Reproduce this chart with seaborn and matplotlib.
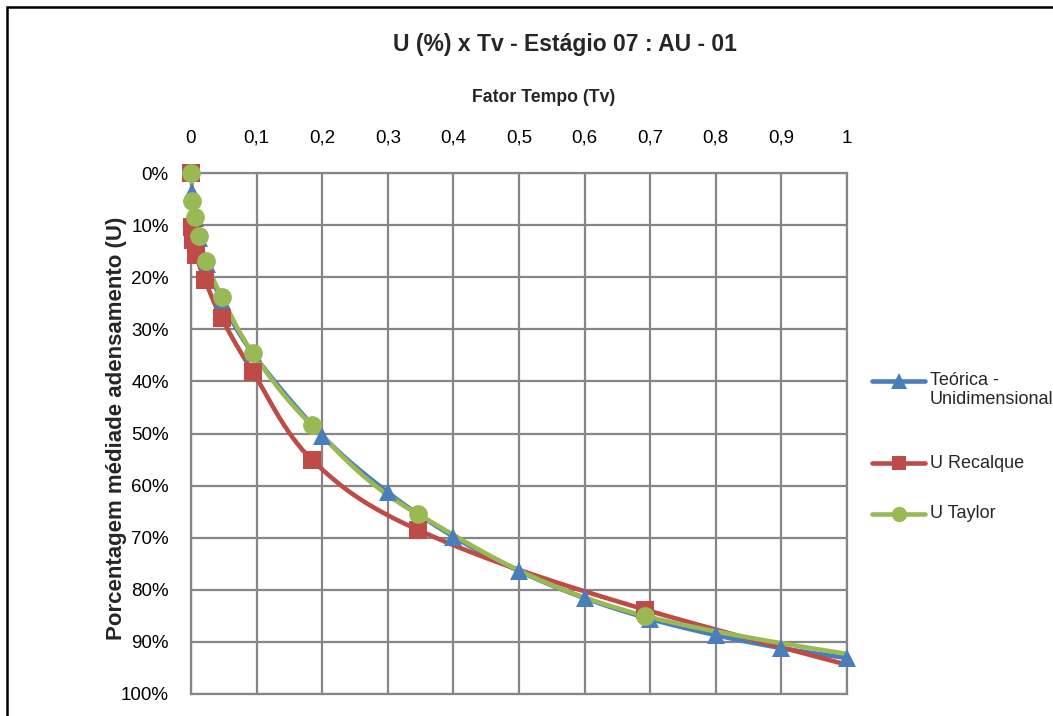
import numpy as np
import pandas as pd
import matplotlib
matplotlib.use("Agg")
import matplotlib.pyplot as plt
from matplotlib.lines import Line2D
from matplotlib.patches import Rectangle
import seaborn as sns

# ---------------- data ----------------
theory_tv = [0, 0.001, 0.006, 0.012, 0.024, 0.047, 0.094, 0.2, 0.3, 0.4, 0.5, 0.6, 0.7, 0.8, 0.9, 1.0]
theory_u = [0, 3.6, 8.7, 12.4, 17.5, 24.5, 34.6, 50.4, 61.3, 69.8, 76.4, 81.6, 85.6, 88.7, 91.2, 93.1]

recalque_tv = [0, 0.001, 0.003, 0.008, 0.021, 0.047, 0.094, 0.184, 0.346, 0.692, 1.384]
recalque_u = [0, 10.3, 12.8, 15.8, 20.5, 27.9, 38.1, 55.0, 68.5, 83.8, 107.0]

taylor_tv = [0, 0.002, 0.006, 0.012, 0.023, 0.047, 0.094, 0.184, 0.346, 0.692, 1.384]
taylor_u = [0, 5.3, 8.4, 12.1, 16.9, 23.8, 34.5, 48.4, 65.5, 85.0, 99.5]

x_ticks = [0, 0.1, 0.2, 0.3, 0.4, 0.5, 0.6, 0.7, 0.8, 0.9, 1.0]
x_tick_labels = ["0", "0,1", "0,2", "0,3", "0,4", "0,5", "0,6", "0,7", "0,8", "0,9", "1"]
y_ticks = [0, 10, 20, 30, 40, 50, 60, 70, 80, 90, 100]
y_tick_labels = ["0%", "10%", "20%", "30%", "40%", "50%", "60%", "70%", "80%", "90%", "100%"]

series_names = ["Teórica -\nUnidimensional", "U Recalque", "U Taylor"]
colors = ["#4A7EBB", "#BE4B48", "#98B954"]
markers = ["^", "s", "o"]

# ---------------- style ----------------
sns.set_style("white")
plt.rcParams["font.family"] = ["Liberation Sans", "DejaVu Sans"]

W, H = 1053, 716
fig = plt.figure(figsize=(W / 100, H / 100), dpi=100)
ax_l, ax_r, ax_t, ax_b = 191, 847, 173, 694
ax = fig.add_axes([ax_l / W, 1 - ax_b / H, (ax_r - ax_l) / W, (ax_b - ax_t) / H])

SX = (ax_r - ax_l) / 1.0      # px per Tv unit
SY = (ax_b - ax_t) / 100.0    # px per %


def excel_smooth(xs, ys, n=40):
    """Bezier smoothing similar to Excel's smoothed line."""
    P = np.column_stack([np.asarray(xs, float) * SX, np.asarray(ys, float) * SY])
    out = [P[0]]
    m = len(P)
    for i in range(m - 1):
        p0 = P[i - 1] if i > 0 else P[i]
        p1 = P[i]
        p2 = P[i + 1]
        p3 = P[i + 2] if i + 2 < m else P[i + 1]
        c1 = p1 + (p2 - p0) / 6.0
        c2 = p2 - (p3 - p1) / 6.0
        t = np.linspace(0, 1, n)[1:, None]
        seg = ((1 - t) ** 3) * p1 + 3 * ((1 - t) ** 2) * t * c1 + 3 * (1 - t) * t ** 2 * c2 + t ** 3 * p2
        out.extend(seg)
    out = np.array(out)
    return out[:, 0] / SX, out[:, 1] / SY


all_series = [(theory_tv, theory_u), (recalque_tv, recalque_u), (taylor_tv, taylor_u)]

for (tv, u), name, col, mk in zip(all_series, series_names, colors, markers):
    sx, sy = excel_smooth(tv, u)
    df_line = pd.DataFrame({"Tv": sx, "U": sy})
    sns.lineplot(data=df_line, x="Tv", y="U", sort=False, estimator=None, ax=ax,
                 color=col, linewidth=3.3, zorder=3)

for (tv, u), name, col, mk in zip(all_series, series_names, colors, markers):
    df_pts = pd.DataFrame({"Tv": tv, "U": u})
    df_pts = df_pts[df_pts["Tv"] <= 1.0]
    ms = 13.5 if mk != "s" else 12.5
    ax.plot(df_pts["Tv"], df_pts["U"], linestyle="none", marker=mk, markersize=ms,
            color=col, markeredgewidth=0, zorder=4, clip_on=False)

ax.set_xlim(0, 1)
ax.set_ylim(100, 0)
ax.xaxis.tick_top()
ax.set_xticks(x_ticks)
ax.set_xticklabels(x_tick_labels)
ax.set_yticks(y_ticks)
ax.set_yticklabels(y_tick_labels)
ax.tick_params(axis="both", length=0, labelsize=13.5, colors="black")
ax.tick_params(axis="x", pad=19)
ax.tick_params(axis="y", pad=16)
ax.set_xlabel("")
ax.set_ylabel("")
ax.grid(True, color="#868686", linewidth=1.6)
ax.set_axisbelow(True)
for s in ax.spines.values():
    s.set_color("#868686")
    s.set_linewidth(1.6)

# titles
fig.text(565 / W, 1 - 45 / H, "U (%) x Tv - Estágio 07 : AU - 01", ha="center", va="center",
         fontsize=16.5, fontweight="bold")
fig.text(544 / W, 1 - 97 / H, "Fator Tempo (Tv)", ha="center", va="center",
         fontsize=12.7, fontweight="bold")
fig.text(117 / W, 1 - 428 / H, "Porcentagem médiade adensamento (U)", ha="center", va="center",
         rotation=90, fontsize=16, fontweight="bold")

# legend (drawn manually to match layout)
leg_y = [381, 463, 514]
for name, col, mk, yy in zip(series_names, colors, markers, leg_y):
    yf = 1 - yy / H
    fig.add_artist(Line2D([872 / W, 925 / W], [yf, yf], color=col, linewidth=3.3,
                          transform=fig.transFigure))
    fig.add_artist(Line2D([898.5 / W], [yf], color=col, marker=mk,
                          markersize=11 if mk != "s" else 10,
                          markeredgewidth=0, linestyle="none", transform=fig.transFigure))
    if "\n" in name:
        first, second = name.split("\n")
        fig.text(930 / W, yf, first, ha="left", va="center", fontsize=13)
        fig.text(930 / W, 1 - (yy + 19) / H, second, ha="left", va="center", fontsize=13)
    else:
        fig.text(930 / W, yf, name, ha="left", va="center", fontsize=13)

# outer chart border (top and left visible)
fig.add_artist(Rectangle((7 / W, -0.2), 1.5, 1.2 - 7 / H, transform=fig.transFigure,
                         fill=False, edgecolor="black", linewidth=1.8))

fig.savefig("out.png", dpi=100)
